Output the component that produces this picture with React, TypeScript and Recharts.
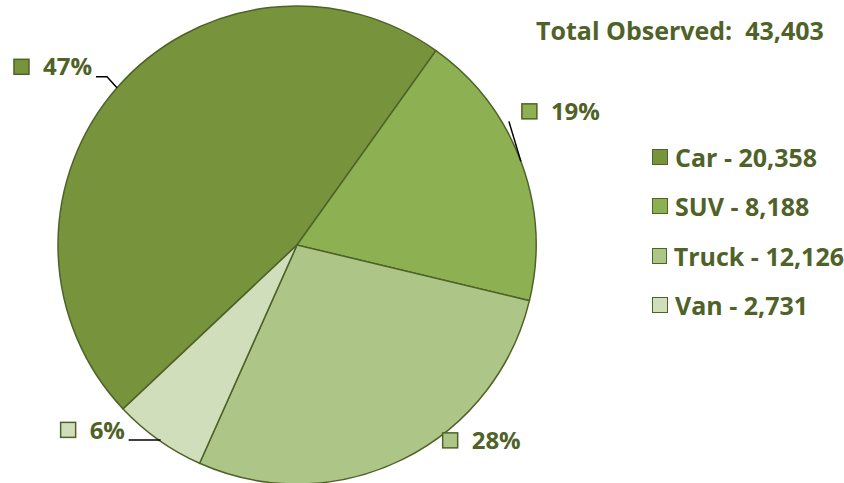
import { PieChart, Pie, Cell, Legend } from 'recharts';

const categories = ['Car', 'SUV', 'Truck', 'Van'];
const counts = [20358, 8188, 12126, 2731];
const totalLabel = 'Total Observed:  43,403';

const COLORS = ['#77933C', '#8DB052', '#ADC688', '#D0DEBB'];
const TEXT = '#4F6228';
const FONT = '"Open Sans", Lato, sans-serif';
const FS = 25;

// label box offsets relative to the point where each slice's mid-angle meets the rim
const LABEL_LAYOUT = [
  { dx: -103, dy: -21, line: [[0, 0], [-10, -11], [-21, -11]] },
  { dx: 1, dy: -50, line: [[0, 0], [-12, -40]] },
  { dx: 40, dy: -19, line: [] },
  { dx: -98, dy: -10, line: [[2, 0], [-30, 0]] },
];

const data = categories.map((name, i) => ({ name, value: counts[i] }));
const total = counts.reduce((a, b) => a + b, 0);

const RADIAN = Math.PI / 180;

function renderLabel(props: any) {
  const { cx, cy, midAngle, outerRadius, index, value } = props;
  const px = cx + outerRadius * Math.cos(-midAngle * RADIAN);
  const py = cy + outerRadius * Math.sin(-midAngle * RADIAN);
  const lay = LABEL_LAYOUT[index];
  const x = px + lay.dx;
  const y = py + lay.dy;
  const pct = Math.round((value / total) * 100) + '%';
  return (
    <g key={`lbl-${index}`}>
      {lay.line.length > 0 && (
        <polyline
          points={lay.line.map(([a, b]) => `${px + a},${py + b}`).join(' ')}
          fill="none"
          stroke="#000"
          strokeWidth={1.5}
        />
      )}
      <rect x={x} y={y - 7.5} width={15} height={15} fill={COLORS[index]} stroke={TEXT} strokeWidth={1.5} />
      <text x={x + 29} y={y} dy="0.36em" fill={TEXT} fontSize={FS - 1} fontWeight="bold" fontFamily={FONT}>
        {pct}
      </text>
    </g>
  );
}

function LegendContent() {
  return (
    <div style={{ fontFamily: FONT }}>
      {data.map((d, i) => (
        <div key={d.name} style={{ display: 'flex', alignItems: 'center', height: 49.5 }}>
          <span
            style={{
              display: 'inline-block',
              width: 14,
              height: 14,
              background: COLORS[i],
              border: `1.5px solid ${TEXT}`,
              marginRight: 7,
            }}
          />
          <span style={{ color: TEXT, fontSize: FS, fontWeight: 'bold', whiteSpace: 'nowrap' }}>
            {d.name} - {d.value.toLocaleString('en-US')}
          </span>
        </div>
      ))}
    </div>
  );
}

export default function App() {
  return (
    <div style={{ position: 'absolute', left: 0, top: 0, width: 844, height: 483, background: '#fff' }}>
      <PieChart width={844} height={483} margin={{ top: 0, right: 0, bottom: 0, left: 0 }}>
        <Pie
          data={data}
          dataKey="value"
          nameKey="name"
          cx={297}
          cy={245}
          outerRadius={239}
          startAngle={-136.7}
          endAngle={-496.7}
          stroke={TEXT}
          strokeWidth={1.5}
          label={renderLabel}
          labelLine={false}
          isAnimationActive={false}
        >
          {data.map((d, i) => (
            <Cell key={d.name} fill={COLORS[i]} />
          ))}
        </Pie>
        <Legend
          layout="vertical"
          content={<LegendContent />}
          wrapperStyle={{ position: 'absolute', left: 652, top: 132, width: 192 }}
        />
      </PieChart>
      <div
        style={{
          position: 'absolute',
          left: 536,
          top: 13,
          fontFamily: FONT,
          fontSize: FS,
          fontWeight: 'bold',
          color: TEXT,
          whiteSpace: 'pre',
        }}
      >
        {totalLabel}
      </div>
    </div>
  );
}
